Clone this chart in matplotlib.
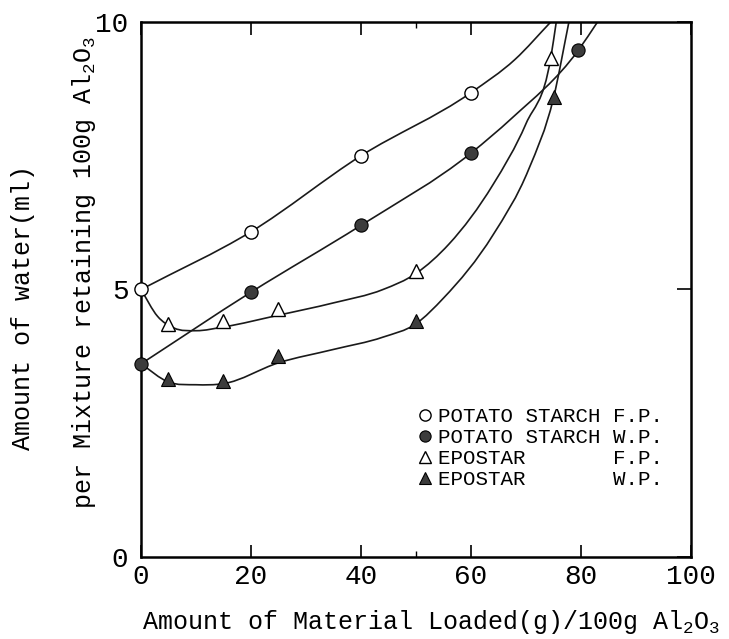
import numpy as np
import matplotlib
matplotlib.use("Agg")
import matplotlib.pyplot as plt
from matplotlib.path import Path
from matplotlib.patches import PathPatch

plt.rcParams['font.family'] = ['Liberation Mono', 'DejaVu Sans Mono']
plt.rcParams['mathtext.fontset'] = 'custom'
plt.rcParams['mathtext.rm'] = 'Liberation Mono'
plt.rcParams['mathtext.it'] = 'Liberation Mono'

ps_fp_x = [0, 20, 40, 60]
ps_fp_y = [5.0, 6.08, 7.5, 8.68]
ps_wp_x = [0, 20, 40, 60, 79.5]
ps_wp_y = [3.61, 4.95, 6.2, 7.55, 9.47]
ep_fp_x = [5, 15, 25, 50, 74.5]
ep_fp_y = [4.36, 4.42, 4.63, 5.35, 9.33]
ep_wp_x = [5, 15, 25, 50, 75]
ep_wp_y = [3.32, 3.29, 3.76, 4.42, 8.6]

# --- hand-drawn curves, knots ---
ps_fp_cx = [0, 20, 40, 60, 68, 74.5]
ps_fp_cy = [5.0, 6.08, 7.5, 8.68, 9.3, 10.0]
ps_wp_cx = [0, 20, 40, 60, 67.4, 79.5, 83]
ps_wp_cy = [3.61, 4.95, 6.2, 7.55, 8.2, 9.47, 10.0]
ep_fp_cx = [0, 3, 6, 10, 15, 25, 35, 44, 50, 56, 64, 70, 74.5, 75.5]
ep_fp_cy = [5.0, 4.5, 4.28, 4.23, 4.3, 4.52, 4.75, 5.0, 5.3, 5.85, 6.96, 8.1, 9.33, 10.0]
ep_wp_cx = [0, 5, 10, 15, 25, 35, 44, 50, 55, 64, 70.5, 75, 77.8]
ep_wp_cy = [3.61, 3.27, 3.22, 3.24, 3.63, 3.88, 4.11, 4.36, 4.84, 6.02, 7.25, 8.58, 10.0]

labels = ["POTATO STARCH F.P.", "POTATO STARCH W.P.",
          "EPOSTAR       F.P.", "EPOSTAR       W.P."]


def smooth_path(xs, ys):
    # Hermite curve through the knots (tangents from 3-point differences),
    # written as cubic Bezier segments that matplotlib draws itself
    x = np.asarray(xs, float)
    y = np.asarray(ys, float)
    h = np.diff(x)
    d = np.diff(y) / h
    m = np.empty_like(y)
    m[0] = d[0]
    m[-1] = d[-1]
    for i in range(1, len(x) - 1):
        m[i] = (h[i - 1] * d[i] + h[i] * d[i - 1]) / (h[i - 1] + h[i])
    verts = [(x[0], y[0])]
    codes = [Path.MOVETO]
    for i in range(len(x) - 1):
        verts += [(x[i] + h[i] / 3, y[i] + m[i] * h[i] / 3),
                  (x[i + 1] - h[i] / 3, y[i + 1] - m[i + 1] * h[i] / 3),
                  (x[i + 1], y[i + 1])]
        codes += [Path.CURVE4] * 3
    return Path(verts, codes)


fig = plt.figure(figsize=(7.29, 6.39), dpi=100)
ax = fig.add_axes([0.1934, 0.1283, 0.7545, 0.8373])

for cx, cy in [(ps_fp_cx, ps_fp_cy), (ps_wp_cx, ps_wp_cy),
               (ep_fp_cx, ep_fp_cy), (ep_wp_cx, ep_wp_cy)]:
    patch = PathPatch(smooth_path(cx, cy), fill=False, lw=1.2,
                      edgecolor='#1a1a1a', zorder=2)
    ax.add_patch(patch)

dark = '#3c3c3c'
h1, = ax.plot(ps_fp_x, ps_fp_y, 'o', ms=9.5, mfc='white', mec='black', mew=1.0, ls='', zorder=3, clip_on=False)
h2, = ax.plot(ps_wp_x, ps_wp_y, 'o', ms=9.5, mfc=dark, mec='black', mew=0.8, ls='', zorder=3, clip_on=False)
h3, = ax.plot(ep_fp_x, ep_fp_y, '^', ms=10, mfc='white', mec='black', mew=1.0, ls='', zorder=3)
h4, = ax.plot(ep_wp_x, ep_wp_y, '^', ms=10, mfc=dark, mec='black', mew=0.8, ls='', zorder=3)

ax.set_xlim(0, 100)
ax.set_ylim(0, 10)

ax.set_xticks([0, 20, 40, 60, 80, 100])
ax.set_xticks([50], minor=True)
ax.set_yticks([0, 5, 10])
ax.tick_params(axis='x', which='major', direction='in', top=True, length=9,
               width=1.2, labelsize=20, pad=5)
ax.tick_params(axis='x', which='minor', direction='in', top=True, length=4, width=1.0)
ax.tick_params(axis='y', direction='in', left=False, right=True, labelleft=True,
               length=10, width=1.2, labelsize=20, pad=9)
for sp in ax.spines.values():
    sp.set_linewidth(1.8)

ax.set_xlabel(r"Amount of Material Loaded(g)/100g Al$_2$O$_3$", fontsize=18, va='center')
ax.xaxis.set_label_coords(0.527, -0.122)

fig.text(23 / 729, 1 - 307 / 639, "Amount of water(ml)", rotation=90,
         fontsize=18, ha='center', va='center')
fig.text(84 / 729, 1 - 272 / 639, r"per Mixture retaining 100g Al$_2$O$_3$",
         rotation=90, fontsize=18, ha='center', va='center')

ax.legend([h1, h2, h3, h4], labels, loc='upper left',
          bbox_to_anchor=(0.505, 0.28), frameon=False, fontsize=15,
          handlelength=0.6, handletextpad=0.3, labelspacing=0.1,
          borderpad=0, borderaxespad=0, markerscale=0.85)

fig.savefig("out.png", dpi=100)
